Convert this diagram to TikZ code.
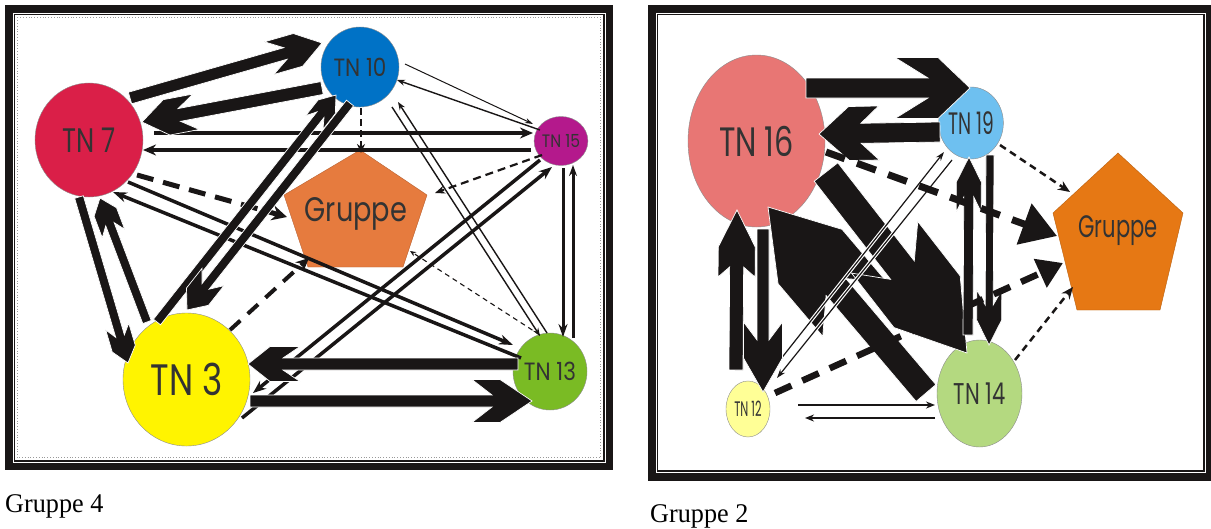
\documentclass[tikz,border=0pt]{standalone}
\usepackage{fontspec}
\setmainfont{Liberation Serif}
\newfontfamily\gf{Poppins}
\usetikzlibrary{arrows.meta,shapes.geometric}
\definecolor{cSeven}{RGB}{218,31,72}
\definecolor{cTen}{RGB}{0,114,198}
\definecolor{cFifteen}{RGB}{180,25,140}
\definecolor{cThree}{RGB}{255,244,0}
\definecolor{cThirteen}{RGB}{122,187,36}
\definecolor{cGrpL}{RGB}{230,123,62}
\definecolor{cSixteen}{RGB}{232,118,116}
\definecolor{cNineteen}{RGB}{110,192,240}
\definecolor{cTwelve}{RGB}{255,255,150}
\definecolor{cFourteen}{RGB}{180,217,128}
\definecolor{cGrpR}{RGB}{230,120,20}
\definecolor{ink}{RGB}{25,22,22}
\newcommand\tx[3]{{\gf\fontsize{#1}{#1}\selectfont\scalebox{#2}[1]{#3}}}
% chevron arrow: x1 y1 x2(tip) y2 shafthalf headhalf d1 d2 d3
\newcommand\chev[9]{%
  \pgfmathsetmacro\chA{atan2((#2)-(#4),(#3)-(#1))}%
  \pgfmathsetmacro\chL{veclen((#3)-(#1),(#4)-(#2))}%
  \fill[chevfill,shift={(#1,#2)},rotate=\chA]
    (0,#5) -- (\chL-#9,#5) -- (\chL-#8,#6) -- (\chL-#7,#6) -- (\chL,0)
    -- (\chL-#7,-#6) -- (\chL-#8,-#6) -- (\chL-#9,-#5) -- (0,-#5) -- cycle;}
\tikzset{
  tnode/.style={ellipse, draw=black!45, line width=0.4pt, inner sep=0pt, text=black!80},
  chevfill/.style={fill=ink, draw=white, line width=0.7pt},
  ln/.style={draw=ink, line width=#1},
  dsh/.style={draw=ink, dash pattern=#1},
  tipS/.style 2 args={-{Stealth[length=#1pt,width=#2pt]}},
  tipT/.style 2 args={-{Triangle[length=#1pt,width=#2pt]}},
  wcase/.style={draw=white, line width=3.5pt}
}
\begin{document}
\begin{tikzpicture}[x=1pt,y=-1pt]
\useasboundingbox (0,0) rectangle (1211,528);
\fill[white] (0,0) rectangle (1211,528);
% ---------------- frames
\draw[ink, line width=7.5pt] (8.75,8.75) rectangle (609.25,466.25);
\draw[ink, line width=1.6pt] (14.3,14.3) rectangle (603.7,460.7);
\draw[black!40, line width=0.8pt, dotted] (17.3,17.3) rectangle (600.7,457.7);
\draw[ink, line width=7.5pt] (651.75,8.75) rectangle (1209.25,476.75);
\draw[ink, line width=1.6pt] (657.3,14.3) rectangle (1203.7,471);
% ---------------- left panel nodes
\node[tnode, fill=cSeven, minimum width=108, minimum height=114] (tn7) at (89,140) {\tx{34}{.76}{TN 7}};
\node[tnode, fill=cTen, minimum width=78, minimum height=80] (tn10) at (360,67) {\tx{25}{.86}{TN 10}};
\node[tnode, fill=cFifteen, minimum width=49, minimum height=49] (tn15) at (561,141) {\tx{18}{.86}{TN 15}};
\node[tnode, fill=cThree, minimum width=127, minimum height=133] (tn3) at (186.5,379.5) {\tx{44}{.78}{TN 3}};
\node[tnode, fill=cThirteen, minimum width=74, minimum height=77] (tn13) at (550,371.5) {\tx{25}{.86}{TN 13}};
\coordinate (gLt) at (360,150);
\coordinate (gLl) at (284,195);
\coordinate (gLr) at (427,195);
\coordinate (gLbl) at (308,267);
\coordinate (gLbr) at (403,267);
\filldraw[fill=cGrpL, draw=cGrpL!80!black, line width=0.4pt] (gLt) -- (gLr) -- (gLbr) -- (gLbl) -- (gLl) -- cycle;
\node[text=black!80] (grpL) at (356,214) {\tx{34}{.8}{Gruppe}};
% ---------------- left panel connectors
\draw[ln=3.5pt, tipS={13}{11}] (154,133) -- (533,133);
\draw[ln=3.5pt, tipS={13}{11}] (531,150) -- (143,150);
\draw[ln=1pt, tipS={8}{5}] (405,64) -- (533,124);
\draw[ln=1.4pt, tipS={8}{6}] (540,130) -- (397,80);
\draw[ln=2.5pt, dsh={on 7pt off 4pt}, tipS={9}{8}] (361,108) -- (361,153);
\draw[ln=2.2pt, dsh={on 8pt off 5pt}, tipS={10}{8}] (542,155) -- (435,193);
\draw[ln=1.4pt, tipS={8}{6}] (392,107) -- (540,336);
\draw[ln=1.4pt, tipS={8}{6}] (547,333) -- (398,102);
\draw[ln=1.1pt, dsh={on 5pt off 4pt}, tipS={6}{5}] (540,335) -- (410,251);
\draw[ln=3pt, tipS={13}{9}] (563,168) -- (563,337);
\draw[ln=3pt, tipS={11}{8}] (573,338) -- (573,165);
\draw[ln=3.5pt, tipS={13}{10}] (540,160) -- (253,393);
\draw[ln=3.5pt, tipS={13}{10}] (242,418) -- (552,167);
\draw[ln=3.5pt, tipS={14}{10}] (128,182) -- (513,345);
\draw[ln=3.5pt, tipS={14}{10}] (521,358) -- (113,192);
\draw[ln=5pt, dsh={on 17pt off 10pt}, tipS={15}{15}] (137,175) -- (287,217);
\draw[ln=4pt, dsh={on 14pt off 10pt}, tipS={13}{12}] (230,330) -- (309,258);
\chev{130}{98}{322}{43}{6}{17}{25}{55}{38}
\chev{322}{88}{142}{122}{6.5}{18}{25}{55}{38}
\chev{79}{197}{128}{363}{4.5}{12}{15}{38}{28}
\chev{147}{322}{100}{198}{4.5}{12}{15}{38}{28}
\chev{157}{322}{336}{95}{4.5}{11}{15}{35}{25}
\chev{350}{103}{187}{310}{4.5}{14}{17}{42}{30}
\chev{518}{364}{248}{364}{6}{17.5}{22}{52}{35}
\chev{250}{401}{532}{401}{6}{21.5}{32}{60}{40}
% ---------------- right panel nodes
\node[tnode, fill=cSixteen, minimum width=137, minimum height=172] (tn16) at (756.5,141) {\tx{41}{.74}{TN 16}};
\node[tnode, fill=cNineteen, minimum width=58, minimum height=72] (tn19) at (971,123) {\tx{31}{.6}{TN 19}};
\node[tnode, fill=cTwelve, minimum width=44, minimum height=56] (tn12) at (748,409) {\tx{21}{.54}{TN 12}};
\node[tnode, fill=cFourteen, minimum width=85, minimum height=107] (tn14) at (979.5,393.5) {\tx{30}{.7}{TN 14}};
\coordinate (gRt) at (1118,153);
\coordinate (gRl) at (1053,213);
\coordinate (gRr) at (1183,213);
\coordinate (gRbl) at (1077,310);
\coordinate (gRbr) at (1160,310);
\filldraw[fill=cGrpR, draw=cGrpR!80!black, line width=0.4pt] (gRt) -- (gRr) -- (gRbr) -- (gRbl) -- (gRl) -- cycle;
\node[text=black!80] (grpR) at (1118,231) {\tx{31}{.68}{Gruppe}};
% ---------------- right panel connectors
\chev{926}{393}{768}{207}{13}{42}{65}{134}{105}
\chev{826}{172}{967}{353}{15}{42}{65}{134}{105}
\draw[wcase] (780,360) -- (944,152);
\draw[wcase] (952,160) -- (777,378);
\draw[ln=1.2pt, tipS={9}{6}] (780,360) -- (944,152);
\draw[ln=1.2pt, tipS={9}{6}] (952,160) -- (777,378);
\chev{806}{88}{970}{88}{10}{30.5}{32}{75}{42}
\chev{940}{132}{819}{134}{10}{27}{30}{60}{42}
\chev{736}{370}{737}{210}{7}{18.5}{37}{67}{57}
\chev{763}{229}{763}{392}{6}{19.5}{34}{70}{52}
\chev{968}{335}{969}{157}{5}{12.5}{25}{55}{40}
\chev{990}{155}{989}{345}{4}{12.5}{25}{55}{40}
\draw[ln=7pt, dsh={on 20pt off 13pt}, tipT={35}{42}] (826,152) -- (1057,236);
\draw[ln=6.5pt, dsh={on 18pt off 12pt}, tipT={25}{30}] (775,393) -- (1063,263);
\draw[ln=2.5pt, dsh={on 7pt off 5pt}, tipS={12}{10}] (1000,145) -- (1070,192);
\draw[ln=2.5pt, dsh={on 7pt off 5pt}, tipS={12}{10}] (1015,360) -- (1073,287);
\draw[ln=1.8pt, tipS={9}{7}] (798,405) -- (935,405);
\draw[ln=1.8pt, tipS={9}{7}] (935,418) -- (805,418);
% ---------------- captions
\node[anchor=base west, inner sep=0pt, font=\fontsize{27}{27}\selectfont] (capL) at (5,512) {\scalebox{.97}[1]{Gruppe 4}};
\node[anchor=base west, inner sep=0pt, font=\fontsize{27}{27}\selectfont] (capR) at (650,522) {\scalebox{.97}[1]{Gruppe 2}};
\end{tikzpicture}
\end{document}
